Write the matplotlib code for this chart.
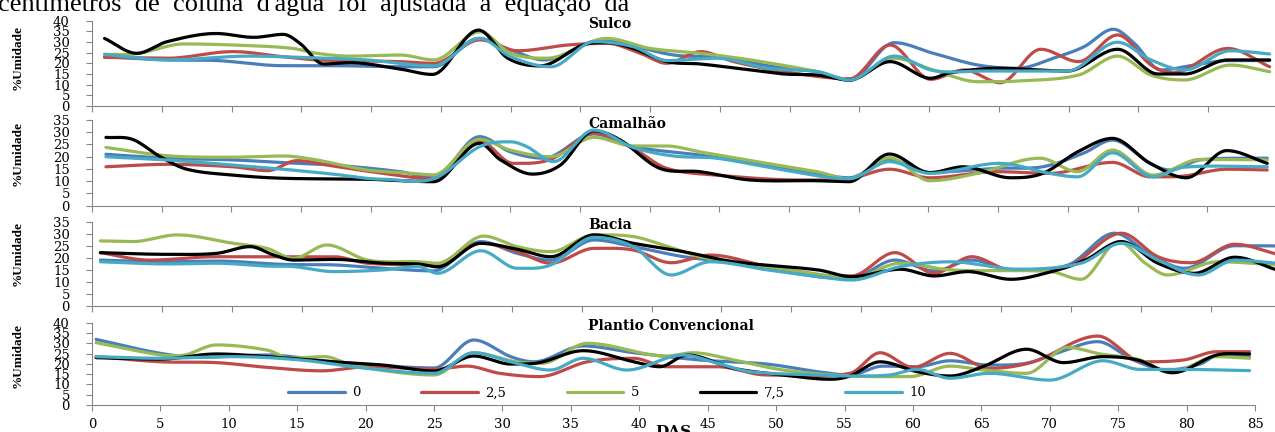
import numpy as np
import matplotlib
matplotlib.use("Agg")
import matplotlib.pyplot as plt

W, H = 1275, 432

# ---------------- data (DAS, %Umidade) ----------------
series_labels = ["0", "2,5", "5", "7,5", "10"]
series_colors = ["#4A7EBB", "#BE4B48", "#98B954", "#000000", "#46AAC5"]

# Sulco
sulco_0 = [(0.9,23.1),(5.4,21.6),(9.0,21.3),(13.7,18.9),(17.3,18.9),(22.1,18.4),(24.5,18.4),(27.7,31.7),(30.0,26.3),(32.4,21.6),(36.4,30.6),(41.7,23.9),(44.8,22.8),(49.6,17.7),(52.0,16.1),(54.3,12.0),(57.5,29.7),(60.3,24.7),(63.5,19.2),(66.3,17.7),(69.2,23.1),(71.1,27.8),(73.2,36.0),(74.7,29.4),(76.6,16.9),(79.0,19.2),(81.4,21.3),(84.4,21.3)]
sulco_25 = [(0.9,22.8),(5.4,22.4),(10.1,25.5),(13.7,23.1),(16.1,21.6),(22.1,20.8),(24.5,20.0),(27.8,31.0),(30.5,25.9),(34.1,28.6),(36.9,29.4),(39.3,24.7),(41.2,20.0),(43.6,25.5),(46.0,20.8),(49.6,16.1),(54.3,12.8),(57.2,28.6),(60.1,12.5),(62.5,16.9),(65.1,10.9),(68.0,26.6),(70.7,20.8),(73.5,33.3),(75.9,19.2),(77.5,15.6),(81.4,27.0),(84.4,18.4)]
sulco_5 = [(0.9,24.2),(3.2,24.5),(6.6,29.1),(11.3,28.3),(14.4,27.0),(16.1,24.7),(18.5,23.4),(22.1,23.9),(24.5,21.6),(27.8,34.8),(30.0,24.7),(32.6,22.4),(36.9,31.7),(40.0,27.0),(43.6,24.7),(47.2,21.6),(52.0,16.1),(54.3,12.4),(57.5,22.4),(60.3,16.9),(63.5,11.4),(66.3,11.7),(70.7,14.5),(73.5,23.4),(75.9,14.5),(78.3,12.2),(81.6,19.2),(84.4,16.1)]
sulco_75 = [(0.9,31.7),(3.2,24.7),(5.4,30.2),(8.9,34.0),(11.6,32.2),(13.7,33.6),(14.9,29.4),(16.6,19.7),(18.5,20.3),(22.1,17.3),(24.4,14.8),(27.7,35.6),(29.8,22.4),(32.1,18.8),(35.2,28.6),(36.9,29.7),(38.8,27.0),(41.2,20.8),(43.6,19.7),(47.2,16.9),(49.6,15.0),(52.0,14.5),(54.3,12.2),(57.2,20.8),(60.1,13.0),(61.5,15.6),(64.9,17.7),(69.9,16.4),(73.5,26.6),(76.4,15.0),(78.3,15.0),(81.4,21.6),(84.4,21.6)]
sulco_10 = [(0.9,24.2),(5.4,21.6),(11.3,23.4),(14.9,22.8),(19.7,21.6),(24.5,18.8),(27.8,31.7),(30.0,23.1),(32.9,18.4),(36.0,30.2),(38.8,27.8),(41.2,21.3),(44.8,22.4),(48.4,17.7),(52.0,16.1),(54.3,12.2),(57.5,23.4),(60.3,16.6),(63.9,16.4),(69.9,16.4),(73.5,29.9),(75.9,21.6),(78.3,16.9),(81.6,25.9),(84.4,24.4)]

# Camalhao
camalhao_0 = [(1.0,21.0),(5.4,19.4),(10.1,18.7),(13.7,17.6),(17.3,16.6),(22.1,13.9),(24.5,11.4),(27.8,28.2),(30.0,22.0),(32.4,19.4),(36.0,29.3),(38.8,24.1),(43.6,20.7),(48.4,16.6),(52.0,13.2),(54.3,11.4),(57.2,18.9),(60.1,13.6),(64.9,15.3),(68.2,15.9),(71.1,21.4),(73.2,26.8),(75.9,17.3),(77.3,14.6),(79.5,18.7),(84.3,19.4)]
camalhao_25 = [(1.0,15.9),(5.4,16.9),(10.1,15.9),(12.6,14.3),(14.7,18.4),(17.3,16.2),(20.9,13.2),(24.5,11.0),(27.8,26.4),(30.2,17.3),(32.9,18.9),(36.0,29.6),(38.8,23.4),(41.2,15.3),(44.8,12.5),(50.8,10.5),(54.3,11.0),(57.2,14.9),(60.1,11.4),(64.9,13.9),(68.7,13.2),(73.2,17.7),(75.9,11.8),(78.3,12.1),(81.4,14.9),(84.3,14.6)]
camalhao_5 = [(1.0,23.8),(5.4,20.4),(10.1,19.8),(13.7,20.3),(16.1,18.7),(19.7,14.6),(22.5,13.4),(24.5,12.6),(27.8,27.1),(30.0,22.7),(32.9,20.0),(36.0,27.9),(38.8,24.4),(41.2,24.4),(43.6,22.0),(48.4,17.3),(52.0,13.9),(54.3,11.0),(57.2,19.6),(60.1,10.2),(63.5,13.2),(68.0,19.4),(70.7,13.9),(73.2,22.7),(76.1,12.5),(79.5,18.9),(84.3,18.7)]
camalhao_75 = [(1.0,27.9),(2.9,27.1),(4.9,20.0),(6.8,14.9),(10.1,12.5),(13.7,11.2),(19.7,10.8),(24.5,9.8),(27.8,25.5),(29.3,18.7),(31.6,12.9),(33.6,16.6),(36.0,30.6),(37.9,26.8),(40.7,15.3),(43.6,13.9),(47.2,10.5),(52.0,10.2),(54.3,9.8),(57.2,21.1),(60.1,13.5),(62.5,15.9),(65.9,11.4),(68.2,13.2),(70.7,22.0),(73.2,27.5),(75.9,17.3),(78.5,11.4),(81.4,22.5),(84.3,17.3)]
camalhao_10 = [(1.0,20.0),(5.4,18.7),(10.1,16.6),(13.7,14.9),(17.3,12.9),(20.9,10.8),(24.5,11.0),(27.8,24.1),(30.0,26.1),(31.2,24.1),(33.1,18.0),(36.0,30.9),(38.8,23.8),(41.7,20.3),(44.8,19.4),(49.6,14.6),(54.3,11.0),(57.2,18.0),(60.1,13.2),(65.1,17.3),(68.7,13.2),(70.7,11.8),(73.2,21.6),(76.1,11.8),(78.3,15.7),(84.3,15.9)]

# Bacia
bacia_0 = [(0.6,19.0),(5.4,18.3),(8.9,18.6),(13.7,17.2),(17.3,17.0),(20.8,15.6),(24.4,14.5),(27.8,26.7),(30.4,21.8),(32.8,19.0),(35.9,27.4),(38.7,24.6),(42.3,20.4),(45.9,17.9),(51.9,12.1),(54.3,11.5),(57.4,19.0),(60.2,14.5),(62.9,19.0),(65.7,14.9),(69.8,17.0),(73.1,30.2),(75.7,21.1),(78.1,15.6),(81.7,25.0),(84.7,24.9)]
bacia_25 = [(0.6,22.1),(4.1,19.0),(8.9,20.4),(12.5,20.4),(17.3,20.4),(19.7,17.7),(24.4,17.0),(27.8,26.0),(30.4,22.5),(32.8,17.7),(35.9,23.9),(38.7,23.2),(41.4,17.9),(44.2,21.1),(48.3,16.3),(51.9,12.8),(54.3,12.4),(57.4,22.1),(60.2,13.5),(62.9,20.4),(65.7,14.9),(69.8,16.3),(73.6,30.2),(76.2,20.4),(78.6,17.9),(81.7,25.6),(84.7,21.5)]
bacia_5 = [(0.6,27.0),(2.9,26.7),(6.1,29.5),(10.1,26.0),(12.5,23.9),(14.4,19.7),(16.8,25.3),(19.7,19.0),(23.3,18.3),(24.7,17.7),(28.0,29.0),(30.4,24.6),(32.8,22.5),(35.9,29.5),(38.7,28.8),(41.2,24.6),(43.5,20.4),(48.3,16.3),(51.9,13.2),(54.3,11.4),(57.8,17.7),(61.4,14.9),(66.2,14.6),(68.6,14.2),(70.7,11.0),(73.4,26.7),(75.3,17.7),(76.9,12.8),(80.5,18.3),(84.7,17.0)]
bacia_75 = [(0.6,22.1),(5.4,21.4),(8.9,21.8),(11.3,24.6),(13.0,21.1),(14.4,19.0),(17.3,19.3),(20.8,17.7),(23.3,17.4),(24.7,16.2),(27.8,26.0),(30.4,23.5),(32.8,20.4),(35.9,29.5),(38.7,26.0),(42.3,22.5),(45.9,18.3),(51.9,14.9),(54.3,12.1),(57.8,15.2),(60.2,12.4),(62.6,14.2),(65.7,11.0),(68.6,14.2),(71.0,19.0),(73.6,26.7),(76.2,17.7),(78.8,13.5),(81.7,20.2),(84.7,14.9)]
bacia_10 = [(0.6,18.3),(5.4,17.4),(8.9,17.7),(12.5,16.5),(14.4,16.3),(17.3,14.2),(20.8,14.9),(23.3,16.3),(24.7,13.5),(27.8,22.9),(30.4,15.6),(32.8,17.0),(35.9,28.5),(38.7,24.6),(41.4,12.8),(44.2,18.3),(48.3,14.9),(51.9,12.1),(54.3,10.7),(57.8,16.3),(61.4,18.3),(66.2,15.2),(70.7,17.7),(73.6,26.0),(76.2,19.0),(79.1,12.8),(81.7,19.0),(84.7,17.7)]

# Plantio Convencional
pc_0 = [(0.3,31.9),(5.0,25.1),(7.9,23.2),(12.8,24.3),(17.6,21.0),(22.5,18.6),(25.0,18.0),(27.9,31.6),(30.6,23.5),(32.3,21.0),(35.9,28.7),(39.6,25.4),(44.4,21.9),(49.3,19.9),(53.0,16.2),(55.4,14.6),(57.8,18.9),(60.3,18.6),(62.7,21.5),(65.6,19.4),(68.3,20.3),(70.5,25.1),(73.5,30.8),(76.1,21.9),(78.6,17.0),(81.0,19.9),(82.2,23.8),(84.6,23.5)]
pc_25 = [(0.3,23.5),(5.0,21.0),(9.1,20.6),(12.8,18.3),(16.8,16.6),(20.1,18.6),(25.0,17.4),(27.4,18.9),(29.8,15.4),(32.7,13.8),(36.2,21.0),(39.6,22.7),(42.0,18.6),(45.7,18.6),(49.3,14.6),(55.4,15.4),(57.6,25.4),(60.0,18.3),(62.7,25.1),(65.6,17.8),(68.8,21.0),(73.5,33.5),(76.8,21.0),(79.8,21.9),(82.2,25.9),(84.6,25.9)]
pc_5 = [(0.3,30.3),(5.0,24.3),(6.4,24.0),(9.1,29.2),(12.8,26.7),(14.5,22.8),(17.0,23.5),(19.0,19.4),(22.5,15.7),(25.0,14.6),(27.9,25.4),(31.0,21.0),(32.9,20.3),(36.2,30.0),(42.0,23.8),(43.9,25.4),(46.9,21.9),(50.5,17.0),(55.4,14.1),(59.8,13.8),(62.7,18.9),(65.1,17.0),(68.3,15.4),(71.3,28.0),(73.7,24.8),(76.6,21.9),(78.8,15.7),(82.2,23.5),(84.6,22.7)]
pc_75 = [(0.3,23.0),(5.0,22.3),(9.1,24.8),(12.8,23.5),(17.6,21.0),(21.3,19.4),(25.0,16.5),(27.9,23.8),(30.6,19.9),(32.7,20.6),(35.9,26.4),(39.6,21.0),(41.5,18.6),(43.5,24.3),(46.9,17.8),(50.5,14.6),(54.0,12.5),(55.4,14.1),(57.6,21.0),(60.3,16.2),(62.7,14.1),(65.1,18.6),(68.3,27.1),(71.0,20.6),(73.9,23.5),(76.4,21.9),(79.0,15.7),(82.2,24.3),(84.6,24.8)]
pc_10 = [(0.3,23.5),(5.0,22.7),(10.3,23.5),(15.2,21.9),(20.1,17.8),(25.0,15.4),(27.9,25.4),(30.6,21.0),(33.5,17.0),(35.9,22.7),(39.1,17.0),(43.2,24.3),(45.7,20.3),(48.1,16.2),(53.0,14.6),(55.4,14.1),(58.3,14.6),(60.3,17.3),(62.7,13.0),(65.6,15.4),(70.0,12.1),(73.9,21.5),(76.6,17.3),(79.8,17.3),(84.6,16.7)]

panel_titles = ["Sulco", "Camalhão", "Bacia", "Plantio Convencional"]
panel_series = [
    [sulco_0, sulco_25, sulco_5, sulco_75, sulco_10],
    [camalhao_0, camalhao_25, camalhao_5, camalhao_75, camalhao_10],
    [bacia_0, bacia_25, bacia_5, bacia_75, bacia_10],
    [pc_0, pc_25, pc_5, pc_75, pc_10],
]
panel_ymax = [40, 35, 35, 40]
x_ticks = list(range(0, 86, 5))
y_label = "%Umidade"
x_label = "DAS"
page_text = "centímetros  de  coluna  d'água  foi  ajustada  a  equação  da"


# ---------------- smoothing (Excel-like smoothed line) ----------------
def smooth(points, n=24):
    x = np.array([p[0] for p in points], float)
    y = np.array([p[1] for p in points], float)
    m = np.zeros_like(y)
    for i in range(len(x)):
        if i == 0:
            m[i] = (y[1] - y[0]) / (x[1] - x[0])
        elif i == len(x) - 1:
            m[i] = (y[-1] - y[-2]) / (x[-1] - x[-2])
        else:
            if (y[i] - y[i-1]) * (y[i+1] - y[i]) <= 0:
                m[i] = 0.0
            else:
                m[i] = (y[i+1] - y[i-1]) / (x[i+1] - x[i-1])
    xs, ys = [], []
    for i in range(len(x) - 1):
        t = np.linspace(0, 1, n, endpoint=False)
        h = x[i+1] - x[i]
        h00 = 2*t**3 - 3*t**2 + 1
        h10 = t**3 - 2*t**2 + t
        h01 = -2*t**3 + 3*t**2
        h11 = t**3 - t**2
        xs.append(x[i] + t*h)
        ys.append(h00*y[i] + h10*h*m[i] + h01*y[i+1] + h11*h*m[i+1])
    xs.append([x[-1]]); ys.append([y[-1]])
    return np.concatenate(xs), np.concatenate(ys)


# ---------------- figure ----------------
fig = plt.figure(figsize=(W/100, H/100), dpi=100)
fig.patch.set_facecolor("white")

# axes boxes in pixels: left, right, top, bottom
boxes = [(92, 1278, 20.7, 106), (92, 1277, 120, 205.7),
         (92, 1281, 221.7, 305.7), (92, 1255, 322.7, 405)]
title_y = [24, 124, 225, 326]
ylabel_y = [57, 153, 253, 356]

GRAY = "#868686"
tick_font = dict(family="DejaVu Serif", size=9.5)

for k, (l, r, t, b) in enumerate(boxes):
    ax = fig.add_axes([l/W, 1 - b/H, (r - l)/W, (b - t)/H])
    lines = []
    for pts, c, lab in zip(panel_series[k], series_colors, series_labels):
        xs, ys = smooth(pts)
        ln, = ax.plot(xs, ys, color=c, lw=2.3, solid_capstyle="round", label=lab)
        lines.append(ln)
    ax.set_xlim(0, 85)
    ax.set_ylim(0, panel_ymax[k])
    ax.set_xticks(x_ticks)
    ax.set_yticks(list(range(0, panel_ymax[k] + 1, 5)))
    for s in ["top", "right"]:
        ax.spines[s].set_visible(False)
    for s in ["left", "bottom"]:
        ax.spines[s].set_color(GRAY)
        ax.spines[s].set_linewidth(0.8)
    ax.tick_params(axis="both", direction="out", color=GRAY, width=0.8, length=4)
    ax.tick_params(axis="y", pad=12)
    ax.tick_params(axis="x", pad=5)
    for lab in ax.get_yticklabels():
        lab.set_fontfamily(tick_font["family"]); lab.set_fontsize(tick_font["size"])
    if k < 3:
        ax.tick_params(axis="x", labelbottom=False)
    else:
        for lab in ax.get_xticklabels():
            lab.set_fontfamily(tick_font["family"]); lab.set_fontsize(tick_font["size"])
        ax.legend(handles=lines, loc="center left",
                  bbox_to_anchor=(288/W, 1 - 393/H), bbox_transform=fig.transFigure,
                  ncol=5, frameon=False, borderpad=0, borderaxespad=0,
                  handlelength=4.3, handletextpad=0.55, columnspacing=4.6,
                  prop=dict(family="DejaVu Serif", size=9.5))
    fig.text(588/W, 1 - title_y[k]/H, panel_titles[k], ha="left", va="center",
             family="DejaVu Serif", weight="bold", size=10)
    fig.text(18/W, 1 - ylabel_y[k]/H, y_label, rotation=90, ha="center", va="center",
             family="Liberation Serif", weight="bold", size=9.5)

fig.text(673/W, 1 - 425/H, x_label, ha="center", va="top",
         family="DejaVu Serif", weight="bold", size=11)
fig.text(-2/W, 1 - 11/H, page_text, ha="left", va="baseline",
         family="Liberation Serif", size=19)

fig.savefig("out.png", dpi=100, facecolor="white")
